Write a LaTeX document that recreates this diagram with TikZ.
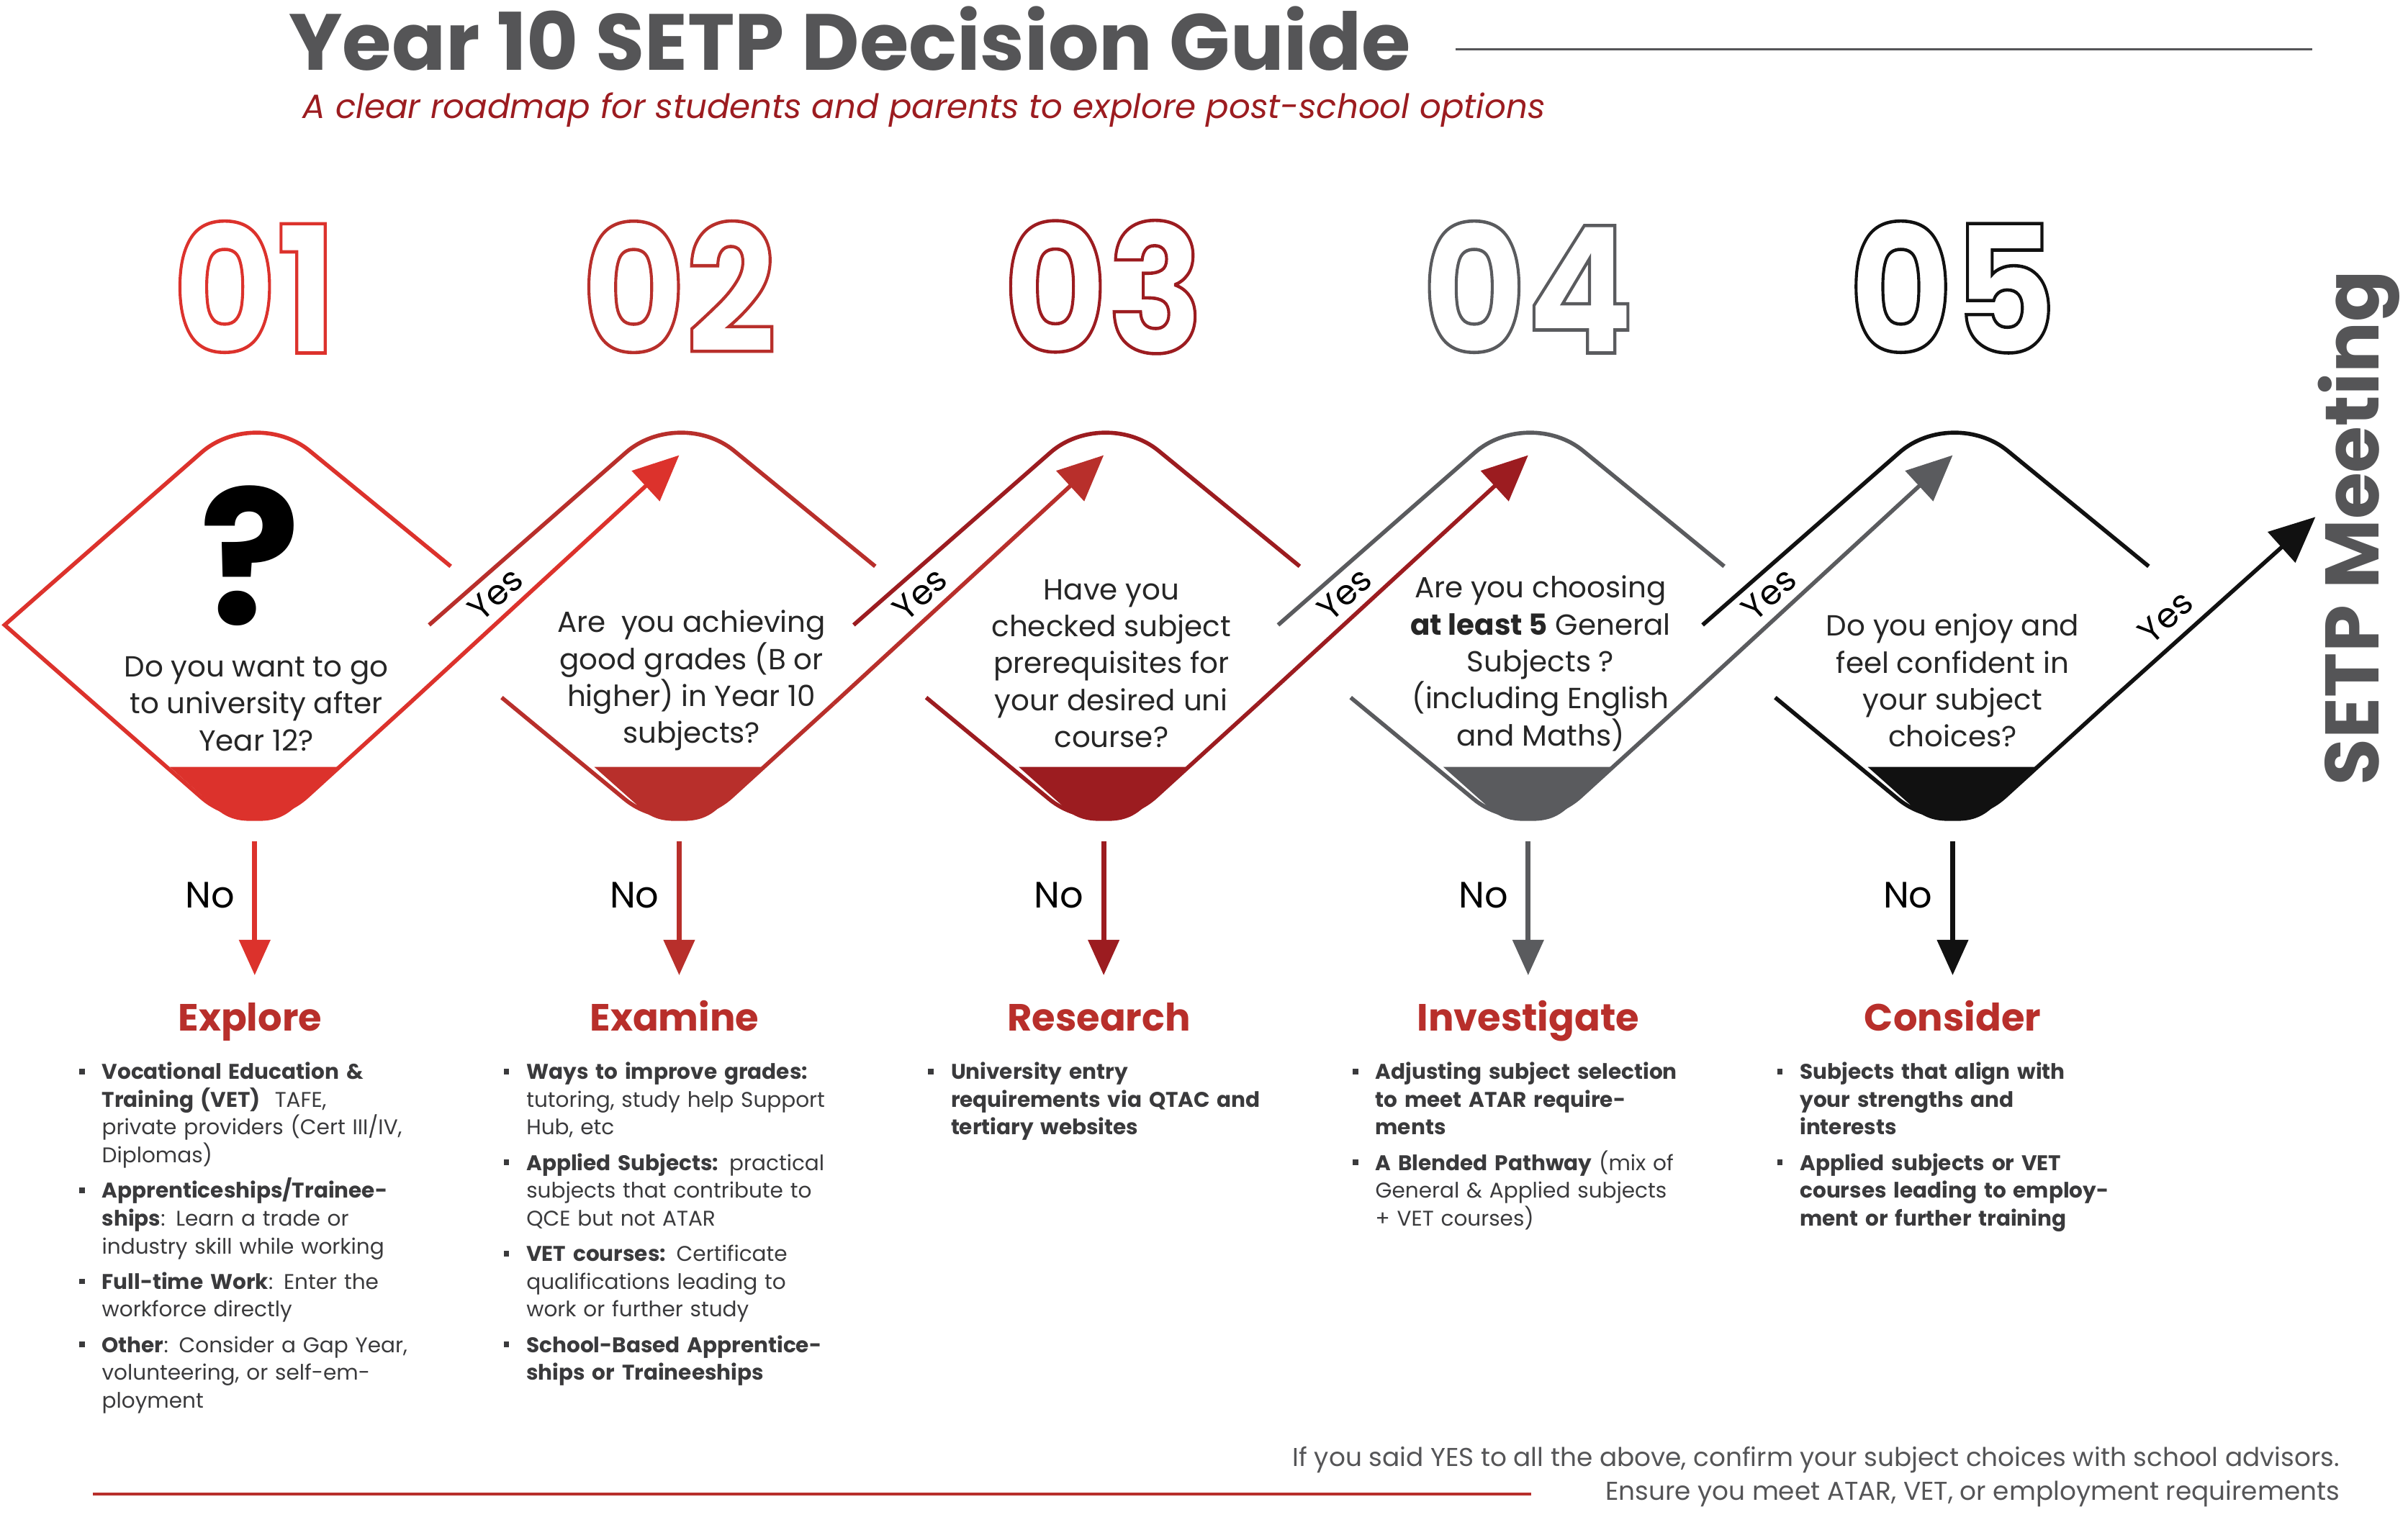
\documentclass[tikz,border=0pt]{standalone}
\usepackage{fontspec}
\setmainfont{Poppins}
\usetikzlibrary{arrows.meta}

\definecolor{cone}{HTML}{DC322C}
\definecolor{ctwo}{HTML}{B82F2B}
\definecolor{cthree}{HTML}{9C1C20}
\definecolor{cfour}{HTML}{5A5B5E}
\definecolor{cfive}{HTML}{111111}
\definecolor{titlegray}{HTML}{555557}
\definecolor{bodygray}{HTML}{3A3A3C}

\newcommand\outlined[1]{\special{pdf:literal direct 1 Tr 1.3 w}#1\special{pdf:literal direct 0 Tr}}
\newcommand\bitem[1]{\par\hangindent=9pt\hangafter=1\noindent\makebox[9pt][l]{\raisebox{2pt}{\rule{2.2pt}{2.2pt}}}#1\par\vspace{3pt}}

\tikzset{
  question/.style={align=center, font=\fontsize{11.5}{14.6}\selectfont, text=black!85},
  heading/.style={anchor=base, font=\fontsize{15}{18}\selectfont\bfseries, text=ctwo},
  bullets/.style={anchor=north west, text width=5.1cm, font=\fontsize{8.4}{11}\selectfont, text=bodygray, inner sep=0pt},
  bignum/.style={font=\fontsize{70}{70}\selectfont\bfseries},
  answer/.style={font=\fontsize{13.5}{16}\selectfont, text=black, inner sep=1pt},
}

\begin{document}
\begin{tikzpicture}[x=0.02144cm, y=-0.02144cm, line width=1.6pt]
\useasboundingbox (0,0) rectangle (1560,988);

% title
\node[anchor=west, font=\fontsize{31.5}{34}\selectfont\bfseries, text=titlegray, inner sep=0pt] (title) at (186,25) {Year 10 SETP Decision Guide};
\draw[titlegray, line width=1pt] (943,32) -- (1498,32);
\node[anchor=west, font=\fontsize{13.3}{16}\selectfont\itshape, text=cthree, inner sep=0pt] (subtitle) at (195,71) {A clear roadmap for students and parents to explore post-school options};

% diamonds
\foreach \c/\col/\num in {165/cone/01, 440/ctwo/02, 715/cthree/03, 990/cfour/04, 1265/cfive/05}{
  \node[bignum, text=\col] (num\num) at (\c,186) {\scalebox{0.9}[1]{\outlined{\num}}};
  \fill[\col] ({\c-55},497) -- ({\c+55},497) -- ({\c+28},521) .. controls ({\c+18},532) and ({\c+8},532) .. (\c,532) .. controls ({\c-8},532) and ({\c-18},532) .. ({\c-28},521) -- cycle;
  \draw[\col, line width=2pt, -{Triangle[length=14pt,width=12pt]}] (\c,545) coordinate (bot\num) -- (\c,632) coordinate (down\num);
}
\draw[cone, rounded corners=28] (292,367) -- (165,263) -- (28,383);
\draw[cone] (28,383) -- (3,405) -- (28,427);
\draw[cone, rounded corners=28] (28,427) -- (165,547) -- (265,456);
\foreach \c/\col in {440/ctwo, 715/cthree, 990/cfour, 1265/cfive}{
  \draw[\col, rounded corners=28] ({\c+127},367) -- (\c,263) -- ({\c-162},405);
  \draw[\col, rounded corners=28] ({\c-115},452) -- (\c,547) -- ({\c+100},456);
}
\foreach \c/\col in {165/cone, 440/ctwo, 715/cthree, 990/cfour}{
  \draw[\col, -{Triangle[length=18pt,width=16pt]}] ({\c+100},456) -- ({\c+275},295);
}
\draw[cfive, -{Triangle[length=18pt,width=16pt]}] (1365,456) -- (1500,335);

% yes labels
\foreach \c in {440, 715, 990, 1265}{
  \node[answer, rotate=42] at ({\c-119},385) {Yes};
}
\node[answer, rotate=42] at (1403,400) {Yes};

% no labels
\foreach \c in {165, 440, 715, 990, 1265}{
  \node[answer, font=\fontsize{14.5}{16}\selectfont] at ({\c-29},{580}) {No};
}

% question texts
\node[font=\fontsize{74}{74}\selectfont\bfseries] (qmark) at (162,360) {?};
\node[question] (q1) at (166,456) {Do you want to go\\to university after\\Year 12?};
\node[question] (q2) at (448,441) {Are~ you achieving\\good grades (B or\\higher) in Year 10\\subjects?};
\node[question] (q3) at (720,430) {Have you\\checked subject\\prerequisites for\\your desired uni\\course?};
\node[question] (q4) at (998,430) {Are you choosing\\\textbf{at least 5} General\\Subjects ?\\(including English\\and Maths)};
\node[question] (q5) at (1265,441) {Do you enjoy and\\feel confident in\\your subject\\choices?};

% headings
\node[heading] (h1) at (162,668) {Explore};
\node[heading] (h2) at (437,668) {Examine};
\node[heading] (h3) at (712,668) {Research};
\node[heading] (h4) at (990,668) {Investigate};
\node[heading] (h5) at (1265,668) {Consider};

% bullet lists
\node[bullets] (b1) at (50,680) {\raggedright
  \bitem{\textbf{Vocational Education \&}\newline\textbf{Training (VET)}~ TAFE,\newline private providers (Cert III/IV,\newline Diplomas)}
  \bitem{\textbf{Apprenticeships/Trainee-}\newline\textbf{ships}: Learn a trade or\newline industry skill while working}
  \bitem{\textbf{Full-time Work}: Enter the\newline workforce directly}
  \bitem{\textbf{Other}: Consider a Gap Year,\newline volunteering, or self-em-\newline ployment}};
\node[bullets] (b2) at (325,680) {\raggedright
  \bitem{\textbf{Ways to improve grades:}\newline tutoring, study help Support\newline Hub, etc}
  \bitem{\textbf{Applied Subjects:} practical\newline subjects that contribute to\newline QCE but not ATAR}
  \bitem{\textbf{VET courses:} Certificate\newline qualifications leading to\newline work or further study}
  \bitem{\textbf{School-Based Apprentice-}\newline\textbf{ships or Traineeships}}};
\node[bullets] (b3) at (600,680) {\raggedright
  \bitem{\textbf{University entry}\newline\textbf{requirements via QTAC and}\newline\textbf{tertiary websites}}};
\node[bullets] (b4) at (875,680) {\raggedright
  \bitem{\textbf{Adjusting subject selection}\newline\textbf{to meet ATAR require-}\newline\textbf{ments}}
  \bitem{\textbf{A Blended Pathway} (mix of\newline General \& Applied subjects\newline + VET courses)}};
\node[bullets] (b5) at (1150,680) {\raggedright
  \bitem{\textbf{Subjects that align with}\newline\textbf{your strengths and}\newline\textbf{interests}}
  \bitem{\textbf{Applied subjects or VET}\newline\textbf{courses leading to employ-}\newline\textbf{ment or further training}}};

% side label
\node[rotate=90, font=\fontsize{30}{32}\selectfont\bfseries, text=titlegray, inner sep=0pt] (meeting) at (1528,342) {SETP Meeting};

% footer
\node[anchor=east, font=\fontsize{10.2}{12}\selectfont, text=titlegray, inner sep=0pt] (foot1) at (1517,946) {If you said YES to all the above, confirm your subject choices with school advisors.};
\node[anchor=east, font=\fontsize{10.2}{12}\selectfont, text=titlegray, inner sep=0pt] (foot2) at (1517,968) {Ensure you meet ATAR, VET, or employment requirements};
\draw[ctwo, line width=1.2pt] (60,968) -- (992,968);
\end{tikzpicture}
\end{document}
